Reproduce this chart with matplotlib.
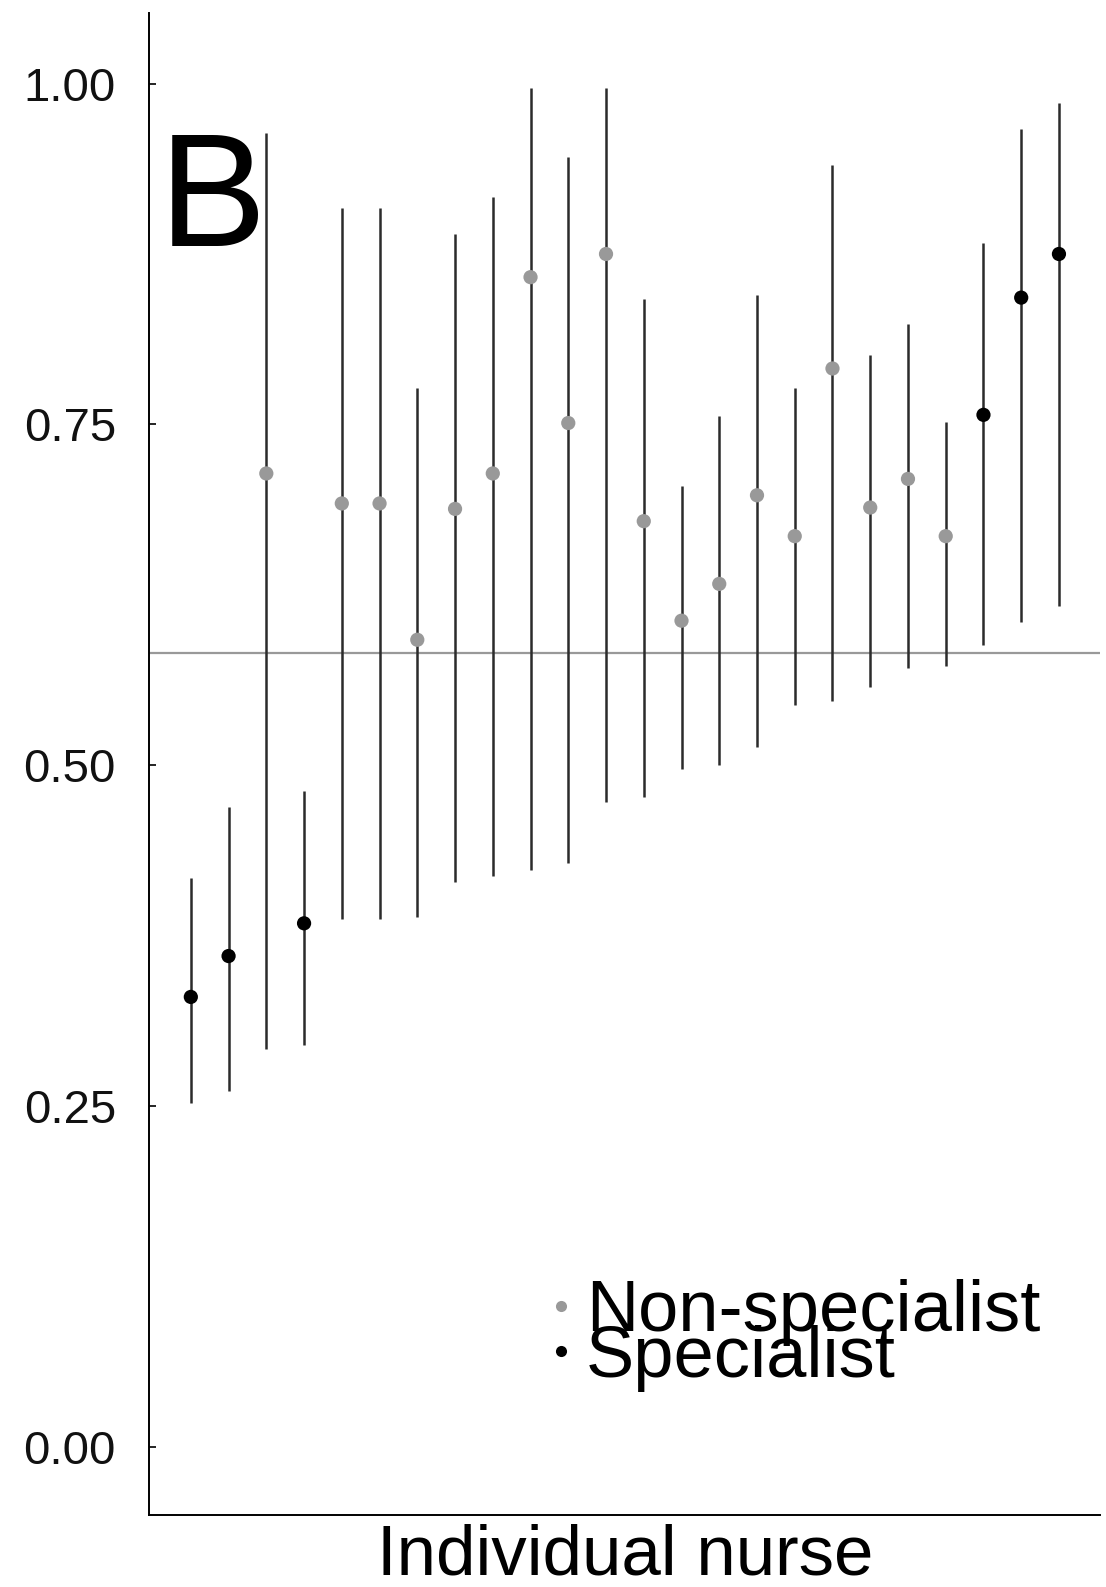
import matplotlib
matplotlib.use('Agg')
import matplotlib.pyplot as plt
from matplotlib.lines import Line2D
import numpy as np

plt.rcParams['font.family'] = ['Liberation Sans', 'DejaVu Sans']

# estimate per nurse, ordered as in the figure
est = [0.330, 0.360, 0.714, 0.384, 0.692, 0.692, 0.592, 0.688, 0.714, 0.858, 0.751, 0.875,
       0.679, 0.606, 0.633, 0.698, 0.668, 0.791, 0.689, 0.710, 0.668, 0.757, 0.843, 0.875]
lower = [0.252, 0.261, 0.292, 0.295, 0.387, 0.387, 0.389, 0.414, 0.419, 0.423, 0.428, 0.473,
         0.477, 0.497, 0.500, 0.513, 0.544, 0.547, 0.557, 0.571, 0.573, 0.588, 0.605, 0.617]
upper = [0.417, 0.469, 0.964, 0.481, 0.909, 0.909, 0.777, 0.890, 0.917, 0.997, 0.946, 0.997,
         0.842, 0.705, 0.756, 0.845, 0.777, 0.940, 0.801, 0.824, 0.752, 0.883, 0.967, 0.986]
specialist = [1, 1, 0, 1, 0, 0, 0, 0, 0, 0, 0, 0, 0, 0, 0, 0, 0, 0, 0, 0, 0, 1, 1, 1]
ref_line = 0.582
yticks = [0.00, 0.25, 0.50, 0.75, 1.00]

GRAY = '#999999'

fig = plt.figure(figsize=(11.06, 15.87), dpi=100)
ax = fig.add_axes([0.135, 0.0454, 0.86, 0.9466])

x = np.arange(len(est))
ax.vlines(x, lower, upper, color='#2b2b2b', lw=1.8, zorder=2)
ax.axhline(ref_line, color=GRAY, lw=1.6, zorder=1)
cols = ['black' if s else GRAY for s in specialist]
ax.scatter(x, est, c=cols, s=105, zorder=3, edgecolors='none')

ax.set_xlim(-1.1, len(est) - 1 + 1.1)
ax.set_ylim(-0.05, 1.052)
ax.set_yticks(yticks)
ax.set_yticklabels(['%.2f' % v for v in yticks])
ax.set_xticks([])
ax.tick_params(axis='y', direction='in', length=5, width=1.2, pad=24, labelsize=34,
               labelcolor='#111111')
for s in ['top', 'right']:
    ax.spines[s].set_visible(False)
for s in ['left', 'bottom']:
    ax.spines[s].set_linewidth(1.4)
ax.set_xlabel('Individual nurse', fontsize=51, labelpad=6)

ax.text(0.01, 0.872, 'B', transform=ax.transAxes, fontsize=116, va='center', ha='left')

handles = [Line2D([], [], marker='o', ls='', color=GRAY, markersize=8, mec='none'),
           Line2D([], [], marker='o', ls='', color='black', markersize=8, mec='none')]
ax.legend(handles, ['Non-specialist', 'Specialist'], loc='lower left',
          bbox_to_anchor=(0.372, 0.058), frameon=False, fontsize=52,
          handletextpad=0.05, handlelength=0.6, labelspacing=-0.3, borderpad=0)

fig.savefig('out.png', dpi=100)
